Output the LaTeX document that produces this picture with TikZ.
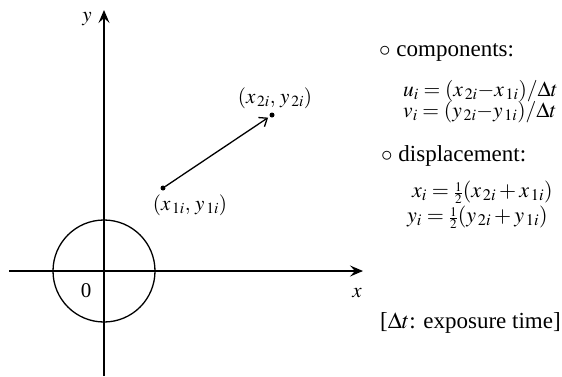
\documentclass[tikz,border=0pt]{standalone}
\usepackage{mathptmx}
\usepackage[no-math]{fontspec}
\setmainfont{Liberation Serif}
\usetikzlibrary{arrows.meta}
\newcommand{\half}{{\scriptscriptstyle\frac{1}{2}}}
\begin{document}
\begin{tikzpicture}[x=1pt,y=-1pt,
  every node/.style={inner sep=0pt,font=\fontsize{21}{24}\selectfont},
  txt/.style={anchor=base west,font=\fontsize{23}{26}\selectfont},
  eq/.style={anchor=base west,font=\fontsize{21.5}{24}\selectfont},
  eqb/.style={anchor=base west,font=\fontsize{22}{24}\selectfont},
  axisline/.style={line width=1.3pt,-{Stealth[length=13pt,width=11pt,inset=5pt]}},
  plain/.style={line width=1.3pt},
  vec/.style={line width=1.3pt,-{Straight Barb[length=7pt,width=11pt,line width=1.3pt]},shorten >=2pt},
  dot/.style={circle,fill=black,minimum size=5pt,inner sep=0pt}]
\useasboundingbox (0,0) rectangle (562,376);
% axes
\coordinate (xs) at (9,271);
\coordinate (xe) at (363,271);
\coordinate (ys) at (104,376);
\coordinate (ye) at (104,10);
\coordinate (o) at (104,271);
\draw[axisline] (xs) -- (xe);
\draw[axisline] (ys) -- (ye);
\draw[plain] (o) circle[radius=51];
\node (zero) at (86,291) {0};
\node (xl) at (357,293) {$x$};
\node (yl) at (87,19) {$y$};
% vector
\node[dot] (p1) at (163,188) {};
\node[dot] (p2) at (272,115) {};
\draw[vec] (p1) -- (p2);
\node (l1) at (190,205) {$(x_{\,1i},\,y_{\,1i})$};
\node (l2) at (275,98) {$(x_{\,2i},\,y_{\,2i})$};
% right text
\node[txt] (c) at (379,56) {$\circ$ components:};
\node[eq] (u) at (403,96) {$u_i=(x_{\,2i}{-}x_{\,1i})/\Delta t$};
\node[eq] (v) at (403,117) {$v_i=(y_{\,2i}{-}y_{\,1i})/\Delta t$};
\node[txt] (d) at (381,161) {$\circ$ displacement:};
\node[eqb] (xi) at (412,197) {$x_i=\half(x_{\,2i}+x_{\,1i})$};
\node[eqb] (yi) at (407,222) {$y_i=\half(y_{\,2i}+y_{\,1i})$};
\node[txt] (e) at (380,328) {[$\Delta t$: exposure time]};
\end{tikzpicture}
\end{document}
